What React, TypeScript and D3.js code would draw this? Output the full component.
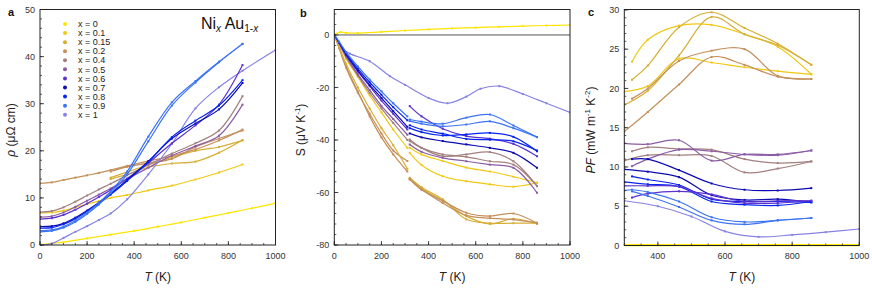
import React from 'react';
import * as d3 from 'd3';

const FONT = "'Liberation Sans', Arial, sans-serif";

// compositions Ni_x Au_1-x and their colours
const compositions = ['0', '0.1', '0.15', '0.2', '0.4', '0.5', '0.6', '0.7', '0.8', '0.9', '1'];
const compColors = [
  '#ffe400', '#f0c814', '#d6ae35', '#c48f5a', '#a2807f', '#8b5ca6',
  '#5a32d0', '#0c0cb2', '#0724f2', '#3c74f4', '#8683e4',
];

// ---- panel a: resistivity (µΩ cm) ----
const tA = [0, 50, 100, 150, 200, 250, 300, 370, 460, 560, 660, 760, 860];
const tA0 = [0, 100, 200, 300, 400, 500, 600, 700, 800, 900, 1000];
const tA1 = [0, 50, 100, 150, 200, 250, 300, 370, 460, 560, 660, 760, 860, 1000];
const tAHigh = [300, 370, 460, 560, 660, 760, 860];
const rho00 = [0.1, 0.6, 1.4, 2.2, 3.0, 3.9, 4.8, 5.8, 6.8, 7.8, 8.9];
const rho01 = [6.8, 6.9, 7.3, 8.0, 8.7, 9.3, 10.0, 10.6, 11.6, 12.6, 13.9, 15.4, 17.1];
const rho015a = [14.0, 15.0, 16.5, 17.3, 17.7, 19.6, 22.3];
const rho015b = [14.3, 15.5, 17.0, 18.6, 20.0, 20.8, 22.2];
const rho02a = [13.1, 13.3, 13.8, 14.3, 14.8, 15.3, 15.9, 16.8, 17.8, 18.9, 20.3, 22.2, 24.5];
const rho02b = [15.6, 16.6, 17.4, 18.3, 20.8, 22.6, 24.3];
const rho04 = [7.0, 7.2, 8.0, 9.2, 10.5, 11.8, 13.0, 14.8, 17.0, 19.4, 21.6, 24.3, 31.6];
const rho05 = [5.9, 6.1, 6.9, 8.1, 9.4, 10.7, 12.0, 14.0, 16.4, 19.0, 21.0, 23.2, 29.8];
const rho06 = [5.5, 5.7, 6.4, 7.5, 8.8, 10.2, 11.7, 14.1, 17.4, 21.6, 25.4, 29.8, 38.2];
const rho07 = [3.9, 4.0, 4.6, 5.8, 7.3, 9.0, 10.9, 13.8, 17.8, 22.6, 25.8, 28.8, 34.4];
const rho08 = [3.6, 3.7, 4.4, 5.6, 7.1, 8.8, 10.7, 13.6, 17.6, 22.9, 26.4, 29.6, 35.0];
const rho09a = [3.0, 3.2, 3.9, 5.2, 6.9, 9.0, 11.4, 15.6, 23.0, 30.3, 34.8, 38.9, 42.7];
const rho09b = [2.8, 3.0, 3.7, 4.9, 6.6, 8.6, 11.0, 15.0, 22.0, 29.6, 34.5, 38.8, 42.7];
const rho10 = [0, 0.3, 1.5, 2.8, 4.0, 5.3, 6.7, 9.7, 15.0, 21.5, 29.0, 33.5, 37.0, 41.4];

// ---- panel b: Seebeck coefficient (µV/K) ----
const tB0 = [0, 10, 25, 50, 100, 200, 300, 400, 500, 600, 700, 800, 900, 1000];
const tB1 = [0, 30, 66, 150, 236, 300, 400, 480, 560, 620, 700, 800, 900, 1000];
const tBLow = [0, 20, 50, 100, 150, 200, 250, 310];
const tBHigh = [320, 370, 460, 560, 660, 760, 860];
const s00 = [0, 0.5, 1.1, 0.8, 0.7, 1.2, 1.7, 2.1, 2.5, 2.8, 3.1, 3.4, 3.6, 3.8];
const s10 = [0, -5, -7.1, -10, -15.7, -19, -24, -26, -23.5, -20.5, -19.5, -22.5, -26, -29.5];
const s09Low = [0, -2.5, -6.5, -12, -17, -21.5, -26, -31];
const s08Low = [0, -2.7, -7, -12.8, -18, -22.8, -27.5, -32.5];
const s07Low = [0, -2.8, -7.3, -13.5, -19, -24, -29, -35];
const s06Low = [0, -3, -7.7, -14, -19.5, -25, -30, -36];
const s05Low = [0, -3, -8, -15, -21, -27, -32, -38];
const s04Low = [0, -3.2, -8.5, -15.5, -22, -28, -33.5, -40];
const s01Low = [0, -3.5, -9, -16, -23, -29.5, -36, -43];
const s015Low = [0, -4.5, -11, -20, -28, -35.5, -42, -51];
const s02LowA = [0, -5, -12.5, -22, -30, -37.5, -44, -48];
const s02LowB = [0, -4.5, -12, -21.5, -31, -39, -45.5, -52];
const s09a = [-32.2, -33, -33.8, -31.5, -30.3, -34.5, -38.9];
const s09b = [-32.8, -33.8, -34.8, -34.1, -32.9, -35.5, -38.9];
const s08a = [-34.4, -36, -37.6, -39.6, -39.9, -40.5, -44.0];
const s08b = [-35.5, -37, -38.3, -37.9, -37.3, -38.8, -44.3];
const s07 = [-37.5, -39, -40.4, -41.7, -43, -44.9, -50.6];
const s06 = [-27.1, -31, -35.7, -38.5, -39.5, -41.5, -46.2];
const s04a = [-39.8, -43, -46.2, -45.5, -44.6, -48.1, -57.5];
const s04b = [-40.4, -43, -45.5, -46.4, -48.1, -49.4, -57.6];
const s05 = [-41.7, -44.5, -46.8, -48.1, -49.4, -50.6, -60.1];
const s01a = [-44.9, -49.5, -53.8, -55.7, -56.9, -57.8, -56.3];
const s01b = [-43, -45.5, -48, -50.5, -52, -54, -56.3];
const s015a = [-54.4, -58, -62.6, -70.2, -71.7, -71.7, -71.7];
const s015b = [-55, -58.5, -63, -69, -72, -70, -72];
const s02a = [-55, -59, -63.2, -67.7, -69, -68, -71.7];
const s02b = [-54.7, -58.7, -64, -68.7, -69.8, -70.3, -71.5];

// ---- panel c: power factor (mW m^-1 K^-2) ----
const tC = [323, 370, 463, 560, 658, 757, 857];
const tC3 = [300, 370, 463, 560, 658, 757, 857];
const tC9 = [300, 323, 370, 463, 560, 658, 757, 857];
const tC0 = [300, 400, 500, 600, 700, 800, 900, 1000];
const pf00 = [0.05, 0.05, 0.05, 0.05, 0.05, 0.05, 0.05, 0.05];
const pf01a = [23.4, 26.2, 28.0, 28.1, 26.9, 25.3, 21.8];
const pf01b = [19.6, 20.3, 23.8, 23.3, 22.7, 22.2, 21.8];
const pf015a = [21.1, 22.9, 27.8, 29.7, 27.7, 25.7, 23.0];
const pf015b = [17.9, 19.7, 24.2, 29.1, 26.9, 25.5, 23.0];
const pf02a = [18.7, 20.0, 23.5, 24.8, 25.0, 21.6, 21.2];
const pf02b = [14.5, 17.0, 20.5, 24.0, 23.0, 21.5, 21.2];
const pf05a = [13.0, 12.9, 13.4, 10.8, 11.6, 11.6, 12.1];
const pf05b = [10.1, 11.0, 12.2, 12.0, 11.6, 11.5, 12.1];
const pf04a = [12.0, 12.5, 12.3, 12.2, 11.0, 10.5, 10.7];
const pf04b = [10.8, 11.5, 11.5, 11.4, 9.3, 9.8, 10.7];
const pf07 = [11.0, 11.0, 9.6, 7.9, 7.1, 7.0, 7.3];
const pf08a = [9.7, 9.4, 8.7, 6.4, 5.8, 5.9, 5.5];
const pf08b = [8.8, 8.4, 7.7, 5.9, 5.6, 5.6, 5.5];
const pf08c = [8.1, 7.8, 7.5, 5.6, 5.2, 5.1, 5.6];
const pf06a = [6.1, 6.6, 6.9, 6.5, 5.6, 5.7, 5.7];
const pf06b = [7.6, 7.6, 7.5, 6.0, 5.4, 5.4, 5.7];
const pf09a = [7.0, 7.1, 6.8, 5.6, 3.6, 3.0, 3.2, 3.5];
const pf09b = [6.9, 6.3, 4.9, 3.2, 2.7, 3.2, 3.5];
const pf10 = [5.7, 5.0, 3.7, 1.8, 1.1, 1.35, 1.7, 2.1];

type Curve = { k: number; T: number[]; v: number[]; w?: number };

const rhoCurves: Curve[] = [
  { k: 0, T: tA0, v: rho00 },
  { k: 1, T: tA, v: rho01 },
  { k: 2, T: tAHigh, v: rho015a },
  { k: 2, T: tAHigh, v: rho015b },
  { k: 3, T: tA, v: rho02a },
  { k: 3, T: tAHigh, v: rho02b },
  { k: 4, T: tA, v: rho04 },
  { k: 5, T: tA, v: rho05 },
  { k: 10, T: tA1, v: rho10 },
  { k: 6, T: tA, v: rho06 },
  { k: 7, T: tA, v: rho07 },
  { k: 8, T: tA, v: rho08 },
  { k: 9, T: tA, v: rho09a },
  { k: 9, T: tA, v: rho09b },
];

const seebeckCurves: Curve[] = [
  { k: 0, T: tB0, v: s00 },
  { k: 10, T: tB1, v: s10 },
  { k: 3, T: tBLow, v: s02LowA },
  { k: 3, T: tBLow, v: s02LowB },
  { k: 2, T: tBLow, v: s015Low },
  { k: 1, T: tBLow, v: s01Low },
  { k: 4, T: tBLow, v: s04Low },
  { k: 5, T: tBLow, v: s05Low },
  { k: 6, T: tBLow, v: s06Low },
  { k: 7, T: tBLow, v: s07Low },
  { k: 8, T: tBLow, v: s08Low },
  { k: 9, T: tBLow, v: s09Low },
  { k: 2, T: tBHigh, v: s015a },
  { k: 2, T: tBHigh, v: s015b },
  { k: 3, T: tBHigh, v: s02a },
  { k: 3, T: tBHigh, v: s02b },
  { k: 1, T: tBHigh, v: s01a },
  { k: 1, T: tBHigh, v: s01b },
  { k: 5, T: tBHigh, v: s05 },
  { k: 4, T: tBHigh, v: s04a },
  { k: 4, T: tBHigh, v: s04b },
  { k: 6, T: tBHigh, v: s06 },
  { k: 7, T: tBHigh, v: s07 },
  { k: 8, T: tBHigh, v: s08a },
  { k: 8, T: tBHigh, v: s08b },
  { k: 9, T: tBHigh, v: s09a },
  { k: 9, T: tBHigh, v: s09b },
];

const pfCurves: Curve[] = [
  { k: 1, T: tC, v: pf01a },
  { k: 1, T: tC3, v: pf01b },
  { k: 2, T: tC, v: pf015a },
  { k: 2, T: tC3, v: pf015b },
  { k: 3, T: tC, v: pf02a },
  { k: 3, T: tC3, v: pf02b },
  { k: 4, T: tC, v: pf04a },
  { k: 4, T: tC3, v: pf04b },
  { k: 5, T: tC3, v: pf05a },
  { k: 5, T: tC, v: pf05b },
  { k: 7, T: tC, v: pf07 },
  { k: 7, T: tC3, v: pf08a },
  { k: 8, T: tC, v: pf08b },
  { k: 8, T: tC3, v: pf08c },
  { k: 6, T: tC, v: pf06a },
  { k: 6, T: tC3, v: pf06b },
  { k: 9, T: tC9, v: pf09a },
  { k: 9, T: tC, v: pf09b },
  { k: 10, T: tC0, v: pf10 },
  { k: 0, T: tC0, v: pf00, w: 2.2 },
];

type PanelProps = {
  id: string;
  left: number;
  right: number;
  top: number;
  bottom: number;
  xDomain: [number, number];
  yDomain: [number, number];
  xMajor: number[];
  xMinorStep: number;
  yMajor: number[];
  yMinorStep: number;
  curves: Curve[];
  zeroLine?: boolean;
};

function Panel(p: PanelProps) {
  const x = d3.scaleLinear().domain(p.xDomain).range([p.left, p.right]);
  const y = d3.scaleLinear().domain(p.yDomain).range([p.bottom, p.top]);
  const line = d3
    .line<[number, number]>()
    .x(d => x(d[0]))
    .y(d => y(d[1]))
    .curve(d3.curveCatmullRom.alpha(0.5));
  const xMinor = d3.range(p.xDomain[0], p.xDomain[1] + 1e-6, p.xMinorStep);
  const yMinor = d3.range(p.yDomain[0], p.yDomain[1] + 1e-6, p.yMinorStep);
  const tick = '#333';
  return (
    <g>
      <defs>
        <clipPath id={`clip-${p.id}`}>
          <rect x={p.left} y={p.top} width={p.right - p.left} height={p.bottom - p.top + 2} />
        </clipPath>
      </defs>
      {p.zeroLine && (
        <line x1={p.left} x2={p.right} y1={y(0)} y2={y(0)} stroke="#555" strokeWidth={1} />
      )}
      <g clipPath={`url(#clip-${p.id})`}>
        {p.curves.map((c, i) => {
          const pts = c.T.map((t, j) => [t, c.v[j]] as [number, number]);
          const col = compColors[c.k];
          return (
            <g key={i}>
              <path d={line(pts) ?? ''} fill="none" stroke={col} strokeWidth={c.w ?? 1.2} />
              {pts.map((d, j) => (
                <rect key={j} x={x(d[0]) - 1} y={y(d[1]) - 1} width={2} height={2} fill={col} />
              ))}
            </g>
          );
        })}
      </g>
      {/* minor & major ticks, inward */}
      {xMinor.map((v, i) => (
        <line key={`xm${i}`} x1={x(v)} x2={x(v)} y1={p.bottom} y2={p.bottom - 2} stroke={tick} strokeWidth={0.8} />
      ))}
      {p.xMajor.map((v, i) => (
        <g key={`xM${i}`}>
          <line x1={x(v)} x2={x(v)} y1={p.bottom} y2={p.bottom - 4} stroke={tick} strokeWidth={0.9} />
          <text x={x(v)} y={258.5} textAnchor="middle" fontSize={9} fill="#333" fontFamily={FONT}>
            {v}
          </text>
        </g>
      ))}
      {yMinor.map((v, i) => (
        <line key={`ym${i}`} x1={p.left} x2={p.left + 2} y1={y(v)} y2={y(v)} stroke={tick} strokeWidth={0.8} />
      ))}
      {p.yMajor.map((v, i) => (
        <g key={`yM${i}`}>
          <line x1={p.left} x2={p.left + 4} y1={y(v)} y2={y(v)} stroke={tick} strokeWidth={0.9} />
          <text x={p.left - 5} y={y(v) + 3.2} textAnchor="end" fontSize={9} fill="#333" fontFamily={FONT}>
            {v < 0 ? `-${Math.abs(v)}` : v}
          </text>
        </g>
      ))}
      <rect x={p.left} y={p.top} width={p.right - p.left} height={p.bottom - p.top} fill="none" stroke="#222" strokeWidth={1} />
      <text x={(p.left + p.right) / 2} y={280.5} textAnchor="middle" fontSize={12} fill="#222" fontFamily={FONT}>
        <tspan fontStyle="italic">T</tspan> (K)
      </text>
    </g>
  );
}

export default function App() {
  return (
    <svg width={872} height={291} style={{ position: 'absolute', left: 0, top: 0, background: '#fff' }} fontFamily={FONT}>
      <rect width={872} height={291} fill="#fff" />
      {/* panel a */}
      <Panel
        id="a"
        left={40}
        right={275.5}
        top={9.5}
        bottom={245}
        xDomain={[0, 1000]}
        yDomain={[0, 50]}
        xMajor={[0, 200, 400, 600, 800, 1000]}
        xMinorStep={50}
        yMajor={[0, 10, 20, 30, 40, 50]}
        yMinorStep={2}
        curves={rhoCurves}
      />
      <text x={8} y={15.5} fontSize={11} fontWeight="bold" fill="#111">a</text>
      <text transform="translate(14.5,130) rotate(-90)" textAnchor="middle" fontSize={12} fill="#222">
        <tspan fontStyle="italic">ρ</tspan> (μΩ cm)
      </text>
      {compositions.map((c, i) => (
        <g key={c}>
          <circle cx={65} cy={24 + i * 9.07} r={2} fill={compColors[i]} />
          <text x={78} y={24 + i * 9.07 + 3.2} fontSize={9} fill="#222">{`x = ${c}`}</text>
        </g>
      ))}
      <text x={201} y={29} fontSize={16} fill="#111">
        Ni
        <tspan fontSize={10} fontStyle="italic" dy={3}>x</tspan>
        <tspan dy={-3}> Au</tspan>
        <tspan fontSize={10} dy={3}>1-</tspan>
        <tspan fontSize={10} fontStyle="italic">x</tspan>
      </text>

      {/* panel b */}
      <Panel
        id="b"
        left={334.3}
        right={570}
        top={9.5}
        bottom={245}
        xDomain={[0, 1000]}
        yDomain={[-80, 9.7]}
        xMajor={[0, 200, 400, 600, 800, 1000]}
        xMinorStep={50}
        yMajor={[-80, -60, -40, -20, 0]}
        yMinorStep={4}
        curves={seebeckCurves}
        zeroLine
      />
      <text x={300} y={16.5} fontSize={11} fontWeight="bold" fill="#111">b</text>
      <text transform="translate(304.5,130) rotate(-90)" textAnchor="middle" fontSize={12} fill="#222">
        S (μV K<tspan fontSize={8} dy={-5}>-1</tspan>
        <tspan dy={5}>)</tspan>
      </text>

      {/* panel c */}
      <Panel
        id="c"
        left={624.3}
        right={859.3}
        top={9.5}
        bottom={245.5}
        xDomain={[300, 1000]}
        yDomain={[0, 30.05]}
        xMajor={[400, 600, 800, 1000]}
        xMinorStep={50}
        yMajor={[0, 5, 10, 15, 20, 25, 30]}
        yMinorStep={1}
        curves={pfCurves}
      />
      <text x={588} y={16} fontSize={11} fontWeight="bold" fill="#111">c</text>
      <text transform="translate(594.5,130) rotate(-90)" textAnchor="middle" fontSize={12} fill="#222">
        <tspan fontStyle="italic">PF</tspan> (mW m<tspan fontSize={8} dy={-5}>-1</tspan>
        <tspan dy={5}> K</tspan>
        <tspan fontSize={8} dy={-5}>-2</tspan>
        <tspan dy={5}>)</tspan>
      </text>
    </svg>
  );
}
